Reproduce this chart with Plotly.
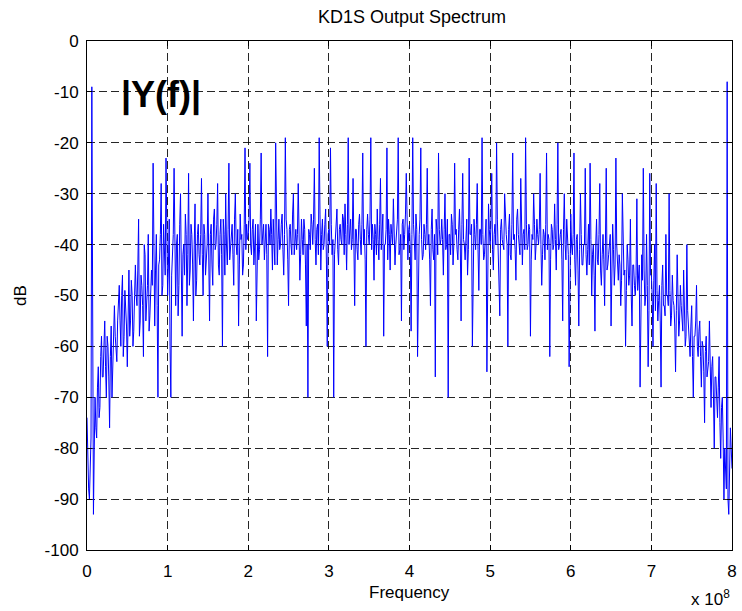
import numpy as np
import plotly.graph_objects as go

# Magnitude spectrum |Y(f)| in dB, bins every 0.02 x 10^8 Hz
main_values = [
    [-74, -88, -80, -9, -93, -70, -78, -64, -72, -58],
    [-66, -55, -70, -60, -76, -56, -62, -52, -60, -55],
    [-48, -60, -46, -58, -52, -64, -45, -55, -50, -57],
    [-44, -52, -35, -55, -48, -62, -42, -50, -38, -54],
    [-45, -24, -56, -38, -70, -43, -28, -48, -40, -23],
    [-50, -35, -70, -42, -25, -52, -38, -48, -30, -58],
    [-40, -34, -52, -26, -45, -38, -55, -32, -47, -36],
    [-44, -27, -50, -38, -42, -30, -55, -36, -48, -33],
    [-40, -28, -46, -35, -60, -38, -30, -44, -24, -40],
    [-36, -48, -30, -42, -56, -34, -38, -44, -21, -36],
    [-38, -24, -42, -35, -40, -55, -36, -41, -22, -38],
    [-43, -36, -62, -37, -33, -45, -39, -20, -44, -35],
    [-40, -34, -46, -19, -37, -52, -36, -42, -30, -38],
    [-41, -28, -47, -35, -42, -37, -56, -70, -38, -34],
    [-40, -25, -44, -36, -19, -45, -35, -40, -33, -60],
    [-37, -21, -42, -70, -38, -33, -44, -36, -40, -35],
    [-32, -45, -19, -38, -41, -27, -52, -37, -43, -34],
    [-42, -22, -37, -60, -34, -40, -19, -36, -47, -38],
    [-33, -43, -27, -37, -58, -40, -21, -35, -45, -38],
    [-31, -44, -37, -19, -41, -55, -35, -38, -26, -43],
    [-36, -57, -19, -40, -34, -62, -38, -21, -43, -36],
    [-41, -25, -38, -52, -33, -43, -66, -37, -22, -40],
    [-35, -46, -30, -40, -70, -38, -34, -44, -24, -37],
    [-43, -33, -55, -26, -40, -37, -46, -23, -38, -60],
    [-35, -41, -28, -49, -37, -19, -43, -38, -65, -32],
    [-40, -26, -45, -36, -20, -41, -54, -35, -40, -30],
    [-38, -60, -34, -43, -22, -38, -47, -33, -40, -27],
    [-44, -37, -19, -41, -36, -58, -38, -30, -43, -35],
    [-40, -26, -48, -37, -43, -22, -38, -62, -36, -41],
    [-32, -45, -20, -40, -37, -55, -30, -43, -38, -64],
    [-34, -42, -22, -48, -38, -56, -30, -44, -40, -25],
    [-46, -36, -24, -50, -40, -57, -35, -44, -28, -48],
    [-38, -52, -25, -44, -40, -56, -36, -48, -23, -45],
    [-42, -52, -30, -46, -60, -40, -48, -35, -56, -44],
    [-50, -31, -46, -68, -42, -25, -52, -38, -64, -26],
    [-46, -60, -40, -28, -55, -48, -68, -44, -52, -38],
    [-50, -30, -56, -46, -52, -65, -42, -58, -48, -55],
    [-45, -60, -40, -56, -62, -52, -70, -58, -48, -62],
    [-55, -68, -60, -75, -58, -64, -55, -72, -62, -80],
    [-66, -74, -62, -82, -70, -90, -85, -8, -93, -76],
]
last_value = [-84]

# Values at the bins lying halfway between the bins above (0.01, 0.03, ... x 10^8 Hz)
mid_values = [
    [-82, -90, -78, -86, -80, -76, -68, -74, -62, -66],
    [-60, -64, -58, -66, -62, -70, -55, -58, -63, -52],
    [-55, -50, -62, -49, -56, -52, -58, -47, -60, -50],
    [-50, -45, -58, -46, -52, -40, -55, -48, -57, -46],
    [-48, -40, -45, -52, -44, -38, -50, -36, -46, -42],
    [-44, -60, -46, -38, -48, -40, -54, -36, -45, -42],
    [-46, -38, -42, -48, -36, -44, -40, -50, -38, -42],
    [-38, -42, -36, -46, -40, -48, -38, -44, -35, -41],
    [-36, -44, -38, -42, -35, -46, -40, -37, -43, -38],
    [-42, -35, -40, -37, -44, -39, -46, -36, -41, -39],
    [-35, -40, -37, -44, -36, -39, -43, -35, -40, -36],
    [-39, -42, -36, -40, -38, -35, -44, -37, -39, -41],
    [-36, -41, -38, -35, -43, -37, -40, -34, -42, -37],
    [-38, -36, -42, -39, -35, -44, -40, -37, -41, -36],
    [-35, -39, -37, -42, -34, -38, -41, -36, -44, -38],
    [-40, -36, -39, -42, -35, -41, -37, -39, -34, -42],
    [-38, -36, -40, -35, -39, -43, -37, -41, -36, -39],
    [-36, -40, -43, -37, -38, -35, -41, -39, -36, -42],
    [-39, -36, -41, -34, -40, -37, -43, -38, -36, -40],
    [-37, -40, -35, -42, -38, -36, -41, -34, -39, -37],
    [-41, -38, -36, -43, -37, -40, -35, -39, -42, -38],
    [-36, -40, -43, -37, -41, -38, -35, -42, -37, -39],
    [-39, -37, -41, -35, -38, -42, -36, -40, -38, -41],
    [-37, -40, -36, -39, -43, -35, -41, -38, -36, -42],
    [-38, -36, -41, -37, -40, -38, -42, -35, -39, -37],
    [-36, -41, -38, -40, -35, -43, -37, -39, -41, -36],
    [-40, -37, -42, -36, -39, -41, -35, -38, -42, -39],
    [-38, -41, -36, -40, -37, -43, -39, -36, -40, -38],
    [-37, -40, -42, -38, -36, -41, -39, -43, -37, -40],
    [-39, -36, -41, -38, -43, -37, -40, -35, -42, -38],
    [-40, -38, -43, -39, -45, -41, -38, -44, -40, -42],
    [-41, -44, -39, -42, -46, -40, -43, -38, -45, -42],
    [-43, -40, -45, -42, -38, -46, -41, -44, -40, -47],
    [-44, -47, -42, -45, -49, -43, -46, -50, -44, -48],
    [-46, -49, -44, -52, -47, -45, -50, -48, -53, -46],
    [-50, -47, -53, -49, -51, -55, -48, -52, -54, -50],
    [-52, -49, -54, -51, -56, -53, -50, -55, -52, -57],
    [-55, -58, -53, -60, -56, -62, -58, -55, -60, -57],
    [-62, -59, -65, -61, -66, -63, -68, -64, -70, -66],
    [-70, -68, -75, -72, -78, -80, -88, -90, -82, -80],
]

main_flat = [v for seg in main_values for v in seg]
mid_flat = [v for seg in mid_values for v in seg]
y_db = []
for a, b in zip(main_flat, mid_flat):
    y_db.extend([a, b])
y_db.extend(last_value)
freq_1e8 = np.linspace(0, 8, len(y_db))

x_ticks = [0, 1, 2, 3, 4, 5, 6, 7, 8]
y_ticks = [0, -10, -20, -30, -40, -50, -60, -70, -80, -90, -100]

FONT = "Liberation Sans, Arial, sans-serif"

fig = go.Figure()
fig.add_trace(go.Scatter(x=freq_1e8, y=y_db, mode="lines",
                         line=dict(color="#0000ff", width=1), showlegend=False))

axis_common = dict(
    showline=True, linecolor="black", linewidth=1, mirror="allticks",
    ticks="inside", ticklen=5, tickcolor="black",
    showgrid=True, gridcolor="rgba(0,0,0,0.85)", gridwidth=1, griddash="8px,4px",
    zeroline=False, tickfont=dict(family=FONT, size=17, color="black"),
)

fig.update_xaxes(range=[0, 8], tickvals=x_ticks, ticktext=[str(t) for t in x_ticks],
                 ticklabelstandoff=6, **axis_common)
fig.update_yaxes(range=[-100, 0], tickvals=y_ticks, ticktext=[str(t) for t in y_ticks],
                 ticklabelstandoff=4, **axis_common)

fig.update_layout(
    width=742, height=611,
    margin=dict(l=87, r=5, t=41, b=61),
    paper_bgcolor="white", plot_bgcolor="white",
    title=dict(text="KD1S Output Spectrum", x=412 / 742, xanchor="center",
               y=1 - 17 / 611, yanchor="middle",
               font=dict(family=FONT, size=18, color="black")),
    annotations=[
        dict(text="<b>|Y(f)|</b>", x=0.40, y=-10.6, xref="x", yref="y",
             xanchor="left", yanchor="middle", showarrow=False,
             font=dict(family=FONT, size=36, color="black")),
        dict(text="Frequency", x=0.5, y=(550 - 592) / 509, xref="paper", yref="paper",
             xanchor="center", yanchor="middle", showarrow=False,
             font=dict(family=FONT, size=17, color="black")),
        dict(text="dB", x=(20 - 87) / 650, y=0.5, xref="paper", yref="paper",
             xanchor="center", yanchor="middle", showarrow=False, textangle=-90,
             font=dict(family=FONT, size=17, color="black")),
        dict(text="x 10<sup>8</sup>", x=1.0, y=(550 - 598) / 509, xref="paper", yref="paper",
             xanchor="right", yanchor="middle", showarrow=False,
             font=dict(family=FONT, size=17, color="black")),
    ],
)

fig.write_html("out.html")
